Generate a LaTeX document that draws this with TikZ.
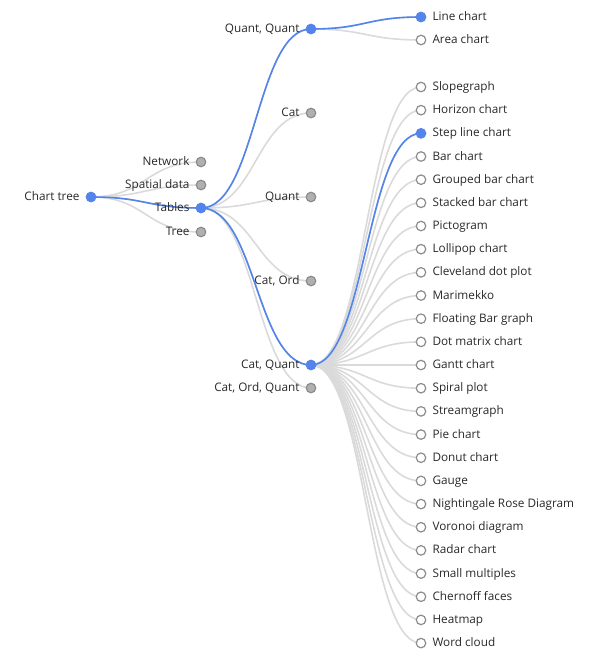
\documentclass[tikz,border=0pt]{standalone}
\usepackage{fontspec}
\setmainfont{Open Sans}
\usetikzlibrary{calc,backgrounds}
\definecolor{hl}{RGB}{82,132,236}
\definecolor{nodefill}{RGB}{176,176,176}
\definecolor{nodestroke}{RGB}{140,140,140}
\definecolor{linkgray}{RGB}{218,218,218}
\definecolor{txt}{RGB}{40,40,40}
\tikzset{
  tnode/.style={circle,line width=1.2bp,minimum size=9.5bp,inner sep=0pt},
  collapsed/.style={tnode,draw=nodestroke,fill=nodefill},
  leafnode/.style={tnode,draw=nodestroke,fill=white},
  active/.style={tnode,draw=hl,fill=hl},
  lbl/.style={font=\fontsize{11.8}{14}\selectfont,text=txt,inner sep=0pt,label distance=6bp,text height=9.6bp,text depth=2.6bp},
  glink/.style={draw=linkgray,line width=1.6bp},
  blink/.style={draw=hl,line width=1.6bp},
}
\newcommand\treelink[3]{\draw[#1] let \p1=(#2.center), \p2=(#3.center) in (\p1) .. controls ({(\x1+\x2)/2},\y1) and ({(\x1+\x2)/2},\y2) .. (\p2);}
\begin{document}
\begin{tikzpicture}[x=1bp,y=-1bp]
\useasboundingbox (0,0) rectangle (600,666);
% root
\node[active,label={[lbl]left:Chart tree}] (root) at (91,197) {};
% level 1
\node[collapsed,label={[lbl]left:Network}] (net) at (201,162) {};
\node[collapsed,label={[lbl]left:Spatial data}] (spat) at (201,185) {};
\node[active,label={[lbl]left:Tables}] (tab) at (201,208) {};
\node[collapsed,label={[lbl]left:Tree}] (tree) at (201,232) {};
% level 2
\node[active,label={[lbl]left:{Quant, Quant}}] (qq) at (311,29) {};
\node[collapsed,label={[lbl]left:Cat}] (cat) at (311,113) {};
\node[collapsed,label={[lbl]left:Quant}] (quant) at (311,197) {};
\node[collapsed,label={[lbl]left:{Cat, Ord}}] (co) at (311,281) {};
\node[active,label={[lbl]left:{Cat, Quant}}] (cq) at (311,365) {};
\node[collapsed,label={[lbl]left:{Cat, Ord, Quant}}] (coq) at (311,388) {};
% level 3 under Quant, Quant
\node[active,label={[lbl]right:Line chart}] (line) at (421,17) {};
\node[leafnode,label={[lbl]right:Area chart}] (area) at (421,40) {};
% level 3 under Cat, Quant
\foreach \t [count=\i] in {Slopegraph,Horizon chart,Step line chart,Bar chart,Grouped bar chart,Stacked bar chart,Pictogram,Lollipop chart,Cleveland dot plot,Marimekko,Floating Bar graph,Dot matrix chart,Gantt chart,Spiral plot,Streamgraph,Pie chart,Donut chart,Gauge,Nightingale Rose Diagram,Voronoi diagram,Radar chart,Small multiples,Chernoff faces,Heatmap,Word cloud}{
  \ifnum\i=3
    \node[active,label={[lbl]right:\t}] (c\i) at (421,{87+(\i-1)*23.17}) {};
  \else
    \node[leafnode,label={[lbl]right:\t}] (c\i) at (421,{87+(\i-1)*23.17}) {};
  \fi
}
\begin{scope}[on background layer]
  \foreach \b in {net,spat,tab,tree}{\treelink{glink}{root}{\b}}
  \foreach \b in {qq,cat,quant,co,cq,coq}{\treelink{glink}{tab}{\b}}
  \foreach \b in {line,area}{\treelink{glink}{qq}{\b}}
  \foreach \i in {1,...,25}{\treelink{glink}{cq}{c\i}}
  \treelink{blink}{root}{tab}
  \treelink{blink}{tab}{qq}
  \treelink{blink}{qq}{line}
  \treelink{blink}{tab}{cq}
  \treelink{blink}{cq}{c3}
\end{scope}
\end{tikzpicture}
\end{document}
